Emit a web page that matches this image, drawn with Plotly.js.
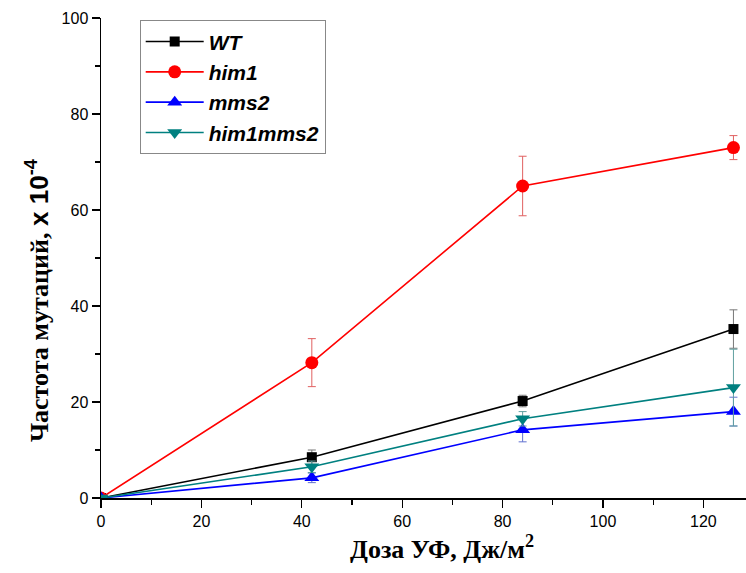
<!DOCTYPE html>
<html><head><meta charset="utf-8">
<script src="https://cdn.plot.ly/plotly-3.0.1.min.js"></script>
<style>html,body{margin:0;padding:0;background:#fff}</style>
</head><body>
<div id="chart" style="width:746px;height:573px"></div>
<script>
const dose = [0, 42, 84, 126];
const names = ["WT", "him1", "mms2", "him1mms2"];
const wt = [0, 8.5, 20.2, 35.2];
const wtErr = [0, 1.5, 1.2, 4];
const him1 = [0, 28.2, 65, 73];
const him1Err = [0, 5, 6.2, 2.5];
const mms2 = [0, 4.2, 14.2, 18];
const mms2Err = [0, 1, 2.5, 3];
const him1mms2 = [0, 6.5, 16.5, 23];
const him1mms2Err = [0, 1.2, 1.5, 8];
const xTitle = 'Доза УФ, Дж/м<sup>2</sup>';
const yTitle = 'Частота мутаций, <span style="font-family:Arial">x 10<sup>-4</sup></span>';

function tr(name, y, err, color, errColor, symbol, size) {
  return {
    x: dose, y: y, name: name, type: 'scatter', mode: 'lines+markers',
    line: {color: color, width: 1.6},
    marker: {color: color, symbol: symbol, size: size},
    error_y: {type: 'data', array: err, visible: true, color: errColor, thickness: 1, width: 4}
  };
}
const data = [
  tr(names[0], wt, wtErr, '#000000', '#777777', 'square', 10),
  tr(names[1], him1, him1Err, '#ff0000', '#e06060', 'circle', 13),
  tr(names[2], mms2, mms2Err, '#0000ff', '#6070d0', 'triangle-up', 13),
  tr(names[3], him1mms2, him1mms2Err, '#008080', '#60a0a0', 'triangle-down', 13)
];
const titleFont = {family: 'Liberation Serif, Times New Roman, serif', size: 26, weight: 'bold', color: '#000'};
const layout = {
  width: 746, height: 573,
  margin: {l: 101, r: 0, t: 18, b: 75},
  paper_bgcolor: '#fff', plot_bgcolor: '#fff',
  font: {family: 'Liberation Sans, Arial, sans-serif', color: '#000'},
  showlegend: true,
  legend: {x: 0.06, y: 0.995, xanchor: 'left', yanchor: 'top',
    bordercolor: '#888', borderwidth: 1, bgcolor: '#fff',
    font: {family: 'Liberation Sans, Arial, sans-serif', size: 21, weight: 'bold', style: 'italic'},
    tracegroupgap: 0, itemwidth: 58},
  xaxis: {
    range: [0, 128.5], showgrid: false, zeroline: false,
    showline: true, linecolor: '#000', linewidth: 1.5,
    ticks: 'outside', ticklen: 8, tickwidth: 1.3, tickcolor: '#000',
    tick0: 0, dtick: 20,
    minor: {ticks: 'outside', ticklen: 5, tickwidth: 1.2, tickcolor: '#000', dtick: 10},
    tickfont: {size: 16, family: 'Liberation Sans, Arial, sans-serif'}
  },
  yaxis: {
    range: [0, 100], showgrid: false, zeroline: false,
    showline: true, linecolor: '#000', linewidth: 1.5,
    ticks: 'outside', ticklen: 8, tickwidth: 1.3, tickcolor: '#000',
    tick0: 0, dtick: 20,
    minor: {ticks: 'outside', ticklen: 5, tickwidth: 1.2, tickcolor: '#000', dtick: 10},
    tickfont: {size: 16, family: 'Liberation Sans, Arial, sans-serif'}
  },
  annotations: [
    {text: xTitle, xref: 'paper', yref: 'paper', x: 0.5287, y: -0.104,
     xanchor: 'center', yanchor: 'middle', showarrow: false, font: titleFont},
    {text: yTitle, xref: 'paper', yref: 'paper', x: -0.0992, y: 0.4125, textangle: -90,
     xanchor: 'center', yanchor: 'middle', showarrow: false, font: titleFont}
  ]
};
Plotly.newPlot('chart', data, layout, {displayModeBar: false, staticPlot: true});
</script>
</body></html>
